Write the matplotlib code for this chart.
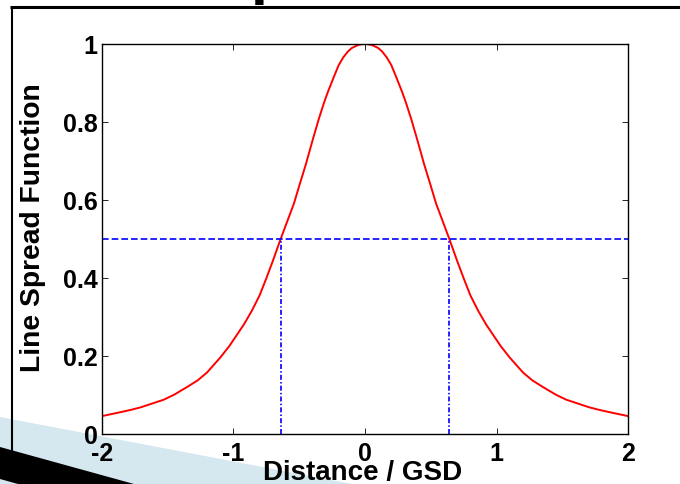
import matplotlib
matplotlib.use("Agg")
import matplotlib.pyplot as plt
from matplotlib.patches import Polygon

# ---- data (right half; the curve is symmetric) ----
x_right = [0.0, 0.05, 0.1, 0.13, 0.165, 0.2, 0.24, 0.28, 0.31, 0.35, 0.39, 0.45, 0.5,
           0.54, 0.59, 0.64, 0.7, 0.75, 0.8, 0.86, 0.92, 1.03, 1.1, 1.2, 1.27, 1.35,
           1.45, 1.53, 1.62, 1.7, 1.78, 1.86, 1.93, 2.0]
lsf_right = [1.0, 0.997, 0.989, 0.98, 0.965, 0.945, 0.912, 0.878, 0.85, 0.808, 0.762, 0.69, 0.635,
             0.59, 0.545, 0.5, 0.443, 0.398, 0.355, 0.315, 0.28, 0.225, 0.195, 0.157, 0.137, 0.12,
             0.1, 0.087, 0.077, 0.068, 0.061, 0.055, 0.05, 0.045]
x_vals = [-v for v in x_right[:0:-1]] + x_right
lsf_vals = lsf_right[:0:-1] + lsf_right
half_max = 0.5
fwhm_edges = [-0.64, 0.64]
x_ticks = [-2, -1, 0, 1, 2]
x_tick_labels = ["-2", "-1", "0", "1", "2"]
y_ticks = [0, 0.2, 0.4, 0.6, 0.8, 1.0]
y_tick_labels = ["0", "0.2", "0.4", "0.6", "0.8", "1"]

W, H = 680, 485
FONT = "Liberation Sans"

fig = plt.figure(figsize=(W / 100, H / 100), dpi=100)
fig.patch.set_facecolor("white")

# ---- slide decoration (background layer, pixel coordinates) ----
bg = fig.add_axes([0, 0, 1, 1], zorder=-1)
bg.set_xlim(0, W)
bg.set_ylim(H, 0)
bg.axis("off")
bg.add_patch(Polygon([(0, 418), (352, H), (0, H)], closed=True,
                     facecolor="#d5e7ef", edgecolor="none"))
bg.add_patch(Polygon([(0, 448), (134, H), (18, H), (0, 480)], closed=True,
                     facecolor="black", edgecolor="none"))
bg.plot([9.5, W], [8, 8], color="black", lw=2.2, solid_capstyle="butt")
bg.plot([12, 12], [7, 452], color="black", lw=1.5, solid_capstyle="butt")
bg.text(251, -8, "p", fontsize=44, fontweight="bold", family=FONT,
        ha="left", va="baseline", color="black")

# ---- main axes ----
ax = fig.add_axes([101.7 / W, 1 - 434.7 / H, (628.3 - 101.7) / W, (434.7 - 44.7) / H])
ax.set_facecolor("white")
ax.plot(x_vals, lsf_vals, color="#ff0000", lw=1.4, solid_joinstyle="round")
ax.plot([x_ticks[0], x_ticks[-1]], [half_max, half_max], color="#0000ff",
        lw=1.2, linestyle=(0, (4.0, 1.8)))
for xe in fwhm_edges:
    ax.plot([xe, xe], [0, half_max], color="#0000ff", lw=1.2,
            linestyle=(0, (3.0, 1.3, 0.9, 1.3)))

ax.set_xlim(-2, 2)
ax.set_ylim(0, 1)
ax.set_xticks(x_ticks)
ax.set_xticklabels(x_tick_labels)
ax.set_yticks(y_ticks)
ax.set_yticklabels(y_tick_labels)
ax.tick_params(direction="in", length=4, width=0.6, top=True, right=True,
               labelsize=18, colors="black")
ax.tick_params(axis="y", pad=3)
ax.tick_params(axis="x", pad=5.5)
for lab in ax.get_xticklabels() + ax.get_yticklabels():
    lab.set_fontweight("bold")
    lab.set_family(FONT)
for sp in ax.spines.values():
    sp.set_linewidth(1.0)
    sp.set_color("black")

fig.text(363 / W, 1 - 480.5 / H, "Distance / GSD", fontsize=20, fontweight="bold",
         family=FONT, ha="center", va="baseline")
fig.text(33.5 / W, 1 - 228 / H, "Line Spread Function", fontsize=20.3, fontweight="bold",
         family=FONT, ha="center", va="center", rotation=90)

fig.savefig("out.png", dpi=100)
